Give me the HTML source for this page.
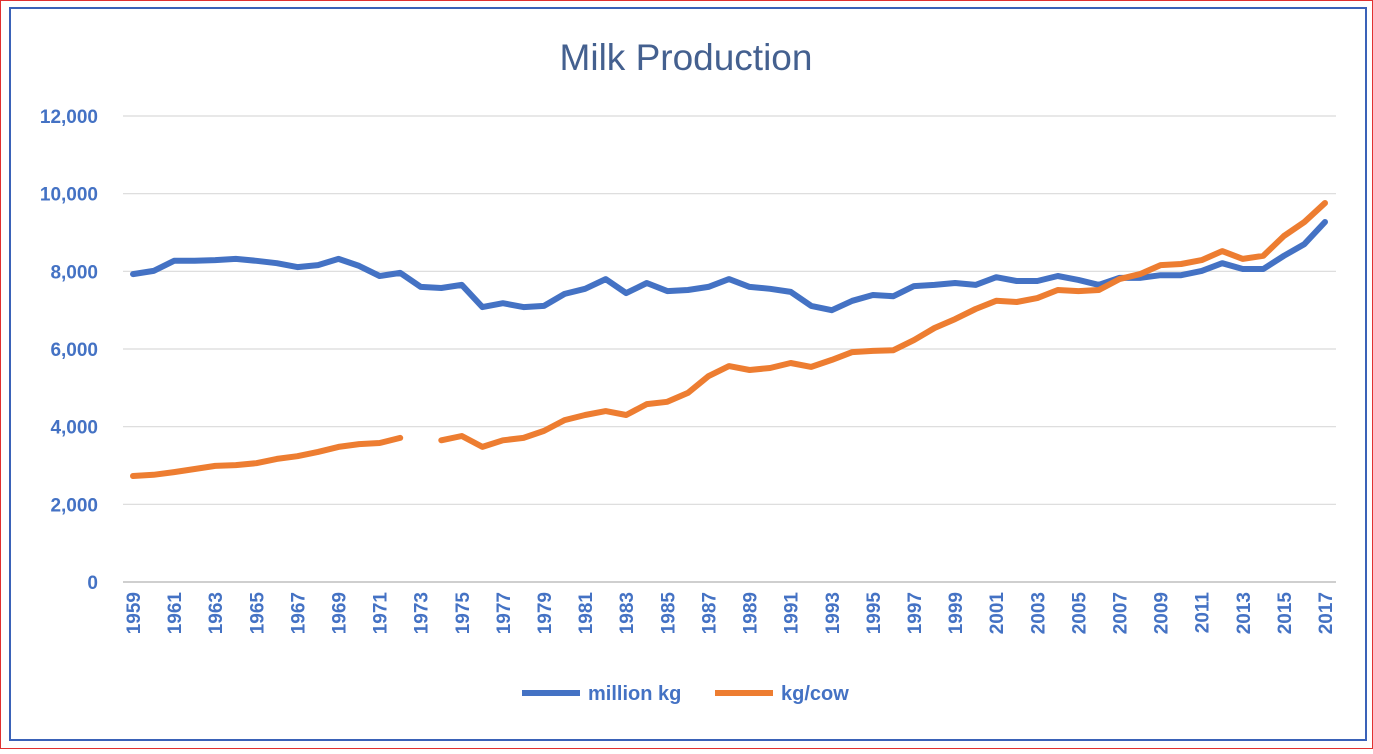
<!DOCTYPE html>
<html><head><meta charset="utf-8"><style>
body{margin:0;background:#fff;font-family:"Liberation Sans",sans-serif}
</style></head><body>
<svg width="1373" height="749" xmlns="http://www.w3.org/2000/svg">
<rect x="0.5" y="0.5" width="1372" height="748" fill="#fff" stroke="#e03030"/>
<rect x="10" y="8" width="1356" height="732" fill="none" stroke="#3a62b8" stroke-width="2"/>
<text x="686" y="70" text-anchor="middle" font-size="37" fill="#44608f">Milk Production</text>
<g id="grid"></g><g id="yt"></g><g id="xt"></g><g id="lines"></g>
<g>
<line x1="522" y1="693" x2="580" y2="693" stroke="#4472c4" stroke-width="6"/>
<text x="588" y="700" font-size="20" font-weight="bold" fill="#4472c4">million kg</text>
<line x1="715" y1="693" x2="773" y2="693" stroke="#ed7d31" stroke-width="6"/>
<text x="781" y="700" font-size="20" font-weight="bold" fill="#4472c4">kg/cow</text>
</g>
</svg>
<script>
const years=[];for(let y=1959;y<=2017;y++)years.push(y);
const millionKg=[7930,8010,8270,8270,8290,8320,8270,8210,8110,8160,8320,8140,7880,7960,7600,7570,7650,7080,7180,7080,7110,7420,7550,7800,7440,7700,7490,7520,7600,7800,7600,7550,7470,7110,7000,7240,7390,7360,7620,7650,7700,7650,7850,7750,7750,7880,7780,7650,7830,7830,7900,7900,8010,8210,8060,8060,8400,8700,9270];
const kgPerCow=[2730,2760,2830,2910,2990,3010,3060,3170,3240,3350,3480,3550,3580,3710,null,3650,3760,3480,3650,3710,3890,4170,4300,4400,4300,4580,4640,4870,5300,5560,5460,5510,5640,5540,5720,5920,5950,5970,6230,6540,6770,7030,7240,7210,7310,7520,7490,7520,7800,7930,8160,8190,8290,8520,8320,8400,8910,9270,9760];
const yTicks=[0,2000,4000,6000,8000,10000,12000];
const NS="http://www.w3.org/2000/svg";
const X=i=>133+(i)*(1325-133)/58, Y=v=>582-v*466/12000;
function mk(t,a,p){const e=document.createElementNS(NS,t);for(const k in a)e.setAttribute(k,a[k]);document.getElementById(p).appendChild(e);return e;}
yTicks.forEach(v=>{
  const g=mk('line',{x1:123,x2:1336,y1:Y(v),y2:Y(v),stroke:v===0?'#bfbfbf':'#d9d9d9','stroke-width':v===0?1.5:1.2},'grid');
  
  
  const t=mk('text',{x:98,y:Y(v)+7,'text-anchor':'end','font-size':19,fill:'#4472c4','font-weight':'bold'},'yt');
  t.textContent=v.toLocaleString('en-US');
  
  
});
years.forEach((yr,i)=>{if(i%2)return;
  const t=mk('text',{transform:`translate(${X(i)+7},592) rotate(-90)`,'text-anchor':'end','font-size':19,fill:'#4472c4','font-weight':'bold'},'xt');
  t.textContent=yr;
  
  
});
function draw(arr,color,name){
  let d='',pen=false;
  arr.forEach((v,i)=>{if(v==null){pen=false;return;}d+=(pen?'L':'M')+X(i).toFixed(1)+' '+Y(v).toFixed(1)+' ';pen=true;});
  const p=mk('path',{d:d,fill:'none',stroke:color,'stroke-width':6,'stroke-linejoin':'round','stroke-linecap':'round'},'lines');
  
  
}
draw(millionKg,'#4472c4','series-million-kg');
draw(kgPerCow,'#ed7d31','series-kg-per-cow');
</script>
</body></html>
